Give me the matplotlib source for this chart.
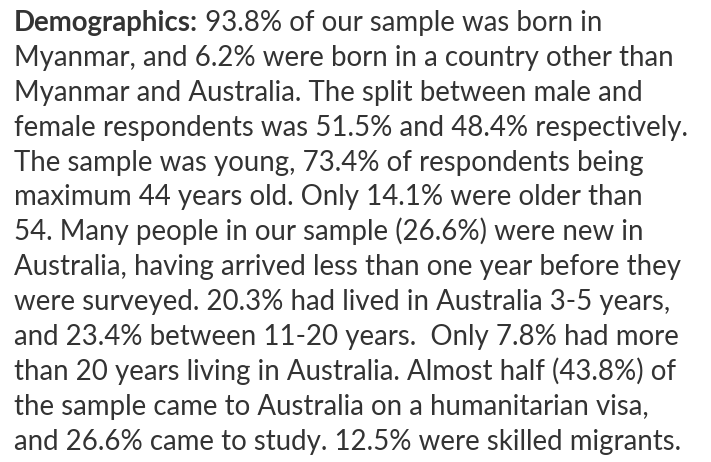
import matplotlib
matplotlib.use("Agg")
import matplotlib.pyplot as plt

# Figures quoted in the paragraph
born = [93.8, 6.2]            # Myanmar, other country
gender = [51.5, 48.4]         # male, female
age = [73.4, 14.1]            # max 44 years old, older than 54
new_arrivals = 26.6
years_in_aus = [20.3, 23.4, 7.8]   # 3-5, 11-20, >20 years
visa = [43.8, 26.6, 12.5]     # humanitarian, study, skilled

heading = "Demographics:"
lines = [
    f" {born[0]}% of our sample was born in",
    f"Myanmar, and {born[1]}% were born in a country other than",
    "Myanmar and Australia. The split between male and",
    f"female respondents was {gender[0]}% and {gender[1]}% respectively.",
    f"The sample was young, {age[0]}% of respondents being",
    f"maximum 44 years old. Only {age[1]}% were older than",
    f"54. Many people in our sample ({new_arrivals}%) were new in",
    "Australia, having arrived less than one year before they",
    f"were surveyed. {years_in_aus[0]}% had lived in Australia 3-5 years,",
    f"and {years_in_aus[1]}% between 11-20 years.  Only {years_in_aus[2]}% had more",
    f"than 20 years living in Australia. Almost half ({visa[0]}%) of",
    "the sample came to Australia on a humanitarian visa,",
    f"and {visa[1]}% came to study. {visa[2]}% were skilled migrants.",
]

W, H = 711, 462
fig = plt.figure(figsize=(W / 100, H / 100), dpi=100)
fig.patch.set_facecolor("white")
color = "#333333"
family = "Lato"

# fit font size so the long lines end roughly where the original's do
renderer = fig.canvas.get_renderer()
sizes = []
for idx, target in [(3, 667), (7, 677), (12, 651), (10, 673)]:
    probe = fig.text(0, 0, lines[idx], fontsize=10, family=family)
    sizes.append(10 * target / probe.get_window_extent(renderer).width)
    probe.remove()
size = sum(sizes) / len(sizes)

x0 = 14
first_base = 31
step = 34.9

for i, line in enumerate(lines):
    y = H - (first_base + i * step)
    x = x0
    if i == 0:
        t = fig.text(x0 / W, y / H, heading, fontsize=size, family=family,
                     weight="bold", color=color, va="baseline")
        x += t.get_window_extent(renderer).width
    fig.text(x / W, y / H, line, fontsize=size, family=family,
             color=color, va="baseline")

fig.savefig("out.png", dpi=100, facecolor="white")
